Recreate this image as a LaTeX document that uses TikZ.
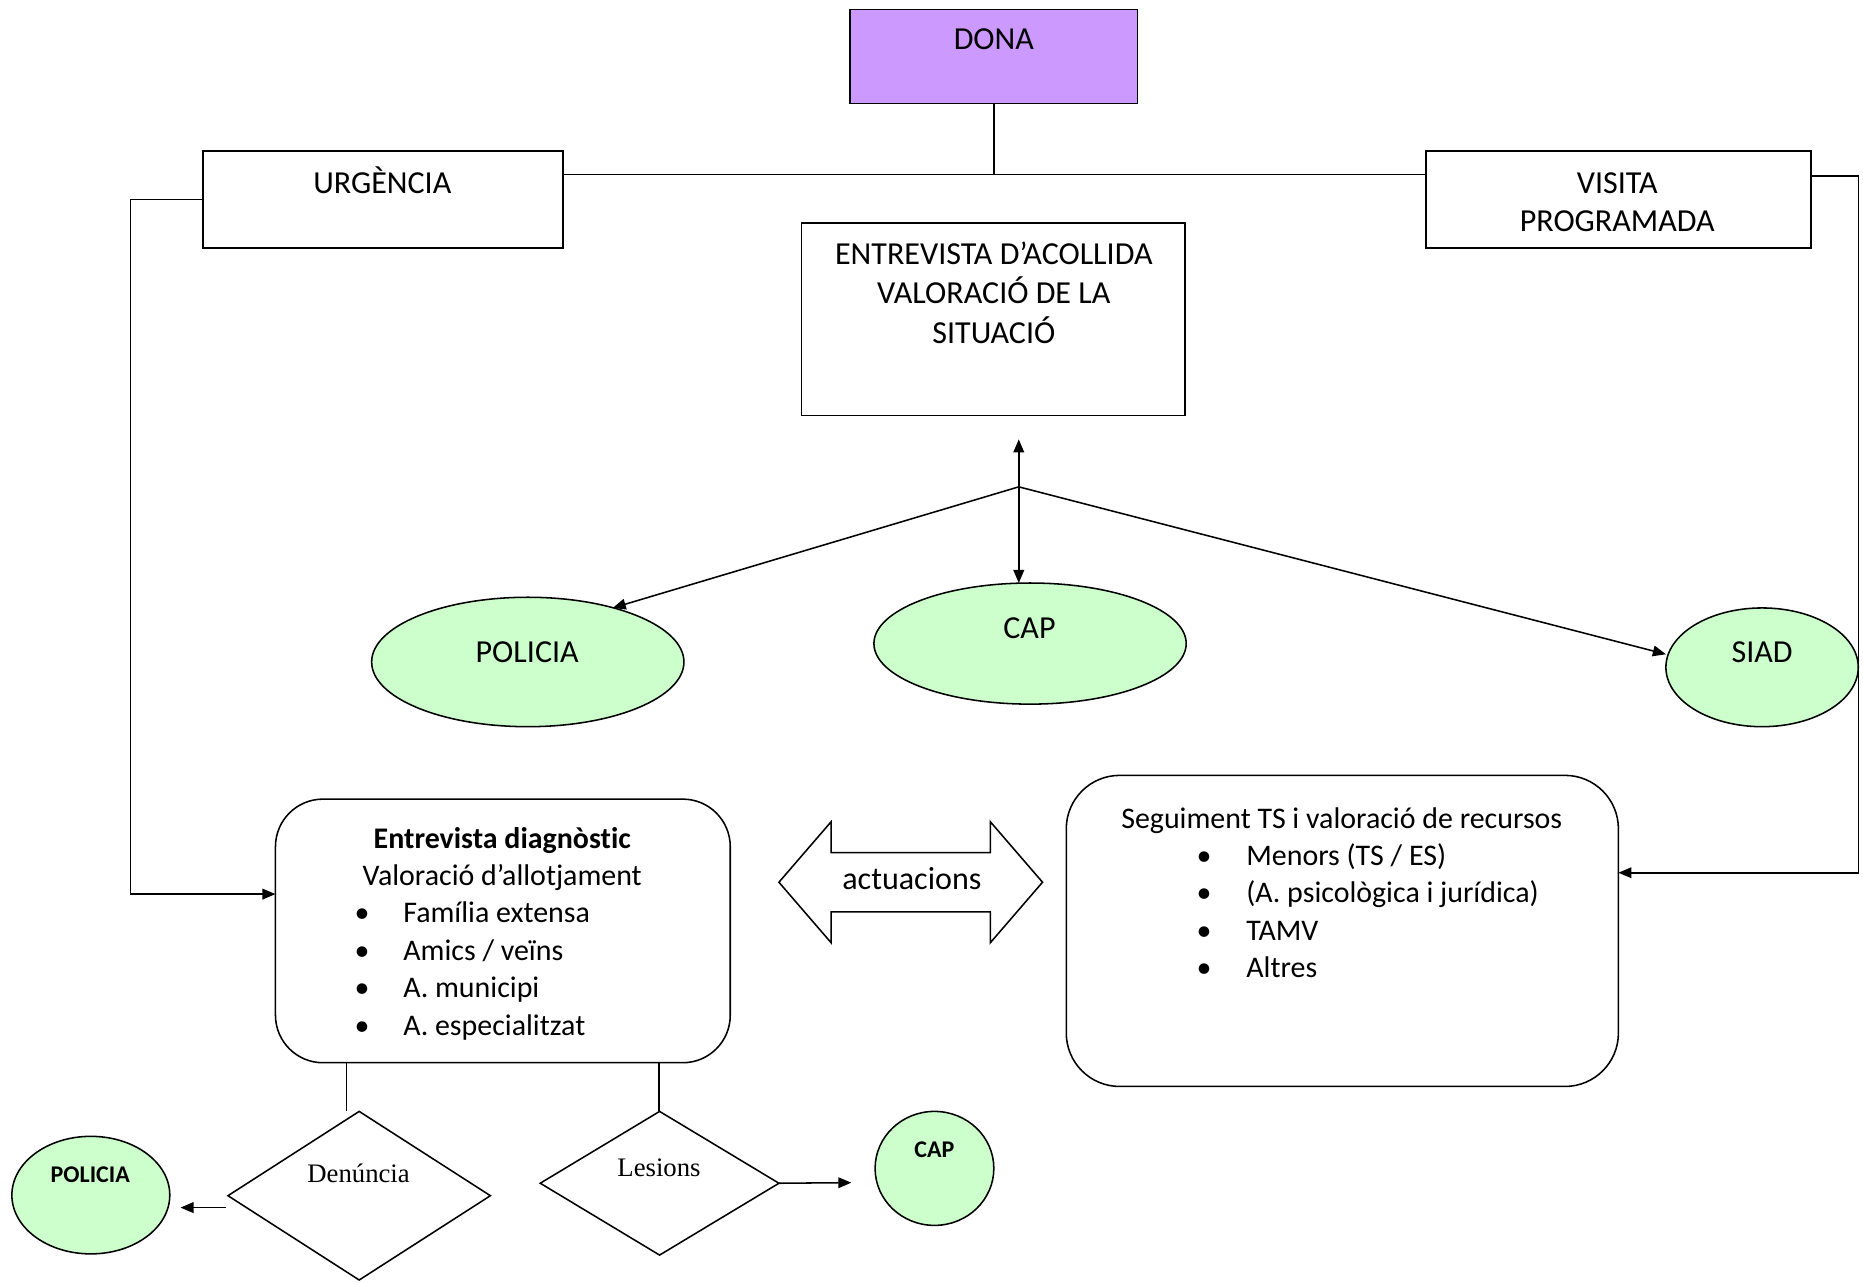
\documentclass[tikz,border=0pt]{standalone}
\usepackage{fontspec}
\setmainfont[Ligatures=NoCommon]{Carlito}
\newfontfamily\timesf{Liberation Serif}
\usetikzlibrary{arrows.meta,shapes.geometric,calc}
\definecolor{donapurple}{RGB}{204,153,255}
\definecolor{lightgreen}{RGB}{204,255,204}
\begin{document}
\begin{tikzpicture}[x=1pt,y=-1pt,
  every path/.style={line width=1.3pt},
  shp/.style={draw, line width=1.3pt, inner sep=0pt, outer sep=0pt},
  oval/.style={shp, ellipse, fill=lightgreen},
  dia/.style={shp, diamond},
  arr/.style={-{Triangle[length=11pt,width=9pt]}},
  txt/.style={inner sep=0pt, anchor=base, font=\fontsize{27}{33}\selectfont},
  btx/.style={inner sep=0pt, anchor=base, font=\fontsize{25.2}{31}\selectfont},
  ltxt/.style={btx, anchor=base west},
  bbtxt/.style={btx, font=\fontsize{25.2}{31}\selectfont\bfseries},
  stxt/.style={inner sep=0pt, anchor=base, font=\fontsize{20.2}{24}\selectfont\bfseries},
  ttxt/.style={inner sep=0pt, anchor=base, font=\fontsize{22.5}{27}\selectfont\timesf},
]
\useasboundingbox (0,0) rectangle (1569,1080);

% boxes
\node[shp, fill=donapurple, minimum width=242pt, minimum height=79pt] (dona) at (837,47.5) {};
\node[shp, minimum width=303pt, minimum height=82pt] (urg) at (322.5,168) {};
\node[shp, minimum width=324pt, minimum height=82pt] (vis) at (1363,168) {};
\node[shp, minimum width=323pt, minimum height=162pt] (ent) at (836.5,269) {};
\node[shp, rounded corners=40pt, minimum width=383pt, minimum height=222pt] (diag) at (423.5,784) {};
\node[shp, rounded corners=45pt, minimum width=465pt, minimum height=262pt] (seg) at (1130.5,784) {};

% ovals
\node[oval, minimum width=263pt, minimum height=109pt] (pol) at (444.5,557.5) {};
\node[oval, minimum width=263pt, minimum height=102pt] (cap) at (867.5,542) {};
\node[oval, minimum width=162pt, minimum height=100pt] (siad) at (1484,562) {};
\node[oval, minimum width=133pt, minimum height=99pt] (pol2) at (76.5,1006.5) {};
\node[oval, minimum width=100pt, minimum height=96pt] (cap2) at (787,984) {};

% diamonds
\node[dia, minimum width=221pt, minimum height=142pt] (den) at (302.5,1007) {};
\node[dia, minimum width=201pt, minimum height=121pt] (les) at (555.5,996.5) {};

% double arrow
\draw (656,743) -- (700,692) -- (700,718) -- (834,718) -- (834,692) -- (878,743)
  -- (834,794) -- (834,768) -- (700,768) -- (700,794) -- cycle;

% texts
\node[txt] (tdona) at (837,42) {DONA};
\node[txt] (turg) at (322,163) {URGÈNCIA};
\node[txt] (tvis1) at (1362,163) {VISITA};
\node[txt] (tvis2) at (1362,195) {PROGRAMADA};
\node[txt] (tent1) at (837,223) {ENTREVISTA D’ACOLLIDA};
\node[txt] (tent2) at (837,256) {VALORACIÓ DE LA};
\node[txt] (tent3) at (837,289) {SITUACIÓ};
\node[txt] (tpol) at (444,558) {POLICIA};
\node[txt] (tcap) at (867,538) {CAP};
\node[txt] (tsiad) at (1484,558) {SIAD};
\node[txt] (tact) at (768,749) {actuacions};

\node[bbtxt] (tdg1) at (423,715) {Entrevista diagnòstic};
\node[btx] (tdg2) at (423,746) {Valoració d’allotjament};
\foreach \yy/\tt [count=\i] in {777/{Família extensa}, 809/{Amics / veïns}, 840/{A. municipi}, 872/{A. especialitzat}}{
  \node[btx] (db\i) at (305,\yy) {•};
  \node[ltxt] (dt\i) at (339,\yy) {\tt};
}
\node[btx] (tsg) at (1130,698) {Seguiment TS i valoració de recursos};
\foreach \yy/\tt [count=\i] in {729/{Menors (TS / ES)}, 760/{(A. psicològica i jurídica)}, 792/{TAMV}, 823/{Altres}}{
  \node[btx] (sb\i) at (1014,\yy) {•};
  \node[ltxt] (st\i) at (1049,\yy) {\tt};
}
\node[ttxt] (tden) at (302,996) {Denúncia};
\node[ttxt] (tles) at (555,991) {Lesions};
\node[stxt] (tpol2) at (76,996) {POLICIA};
\node[stxt] (tcap2) at (787,975) {CAP};

% connectors
\coordinate (junc) at (837,147);
\draw (dona.south) -- (junc);
\draw (urg.east |- junc) -- (vis.west |- junc);

\coordinate (ul) at (110,168);
\coordinate (dl) at (110,753);
\draw[arr] (urg.west) -- (ul) -- (dl) -- (diag.west |- dl);

\coordinate (vr) at (1565,148);
\coordinate (vb) at (1565,735);
\draw[arr] (vis.east |- vr) -- (vr) -- (vb) -- (seg.east |- vb);

\coordinate (hub) at (858,410);
\coordinate (up) at (858,370);
\coordinate (polhit) at (516,512);
\coordinate (siadhit) at (1403,551);
\draw[arr] (hub) -- (up);
\draw[arr] (hub) -- (hub |- cap.north);
\draw[arr] (hub) -- (polhit);
\draw[arr] (hub) -- (siadhit);

\coordinate (d1) at (292,936);
\coordinate (d2) at (555,936);
\draw (d1 |- diag.south) -- (d1);
\draw (d2 |- diag.south) -- (d2);

\coordinate (pa) at (190,1017);
\coordinate (pb) at (152,1017);
\draw[arr] (pa) -- (pb);
\coordinate (ca) at (717,996);
\draw[arr] (les.east) -- (ca);
\end{tikzpicture}
\end{document}
